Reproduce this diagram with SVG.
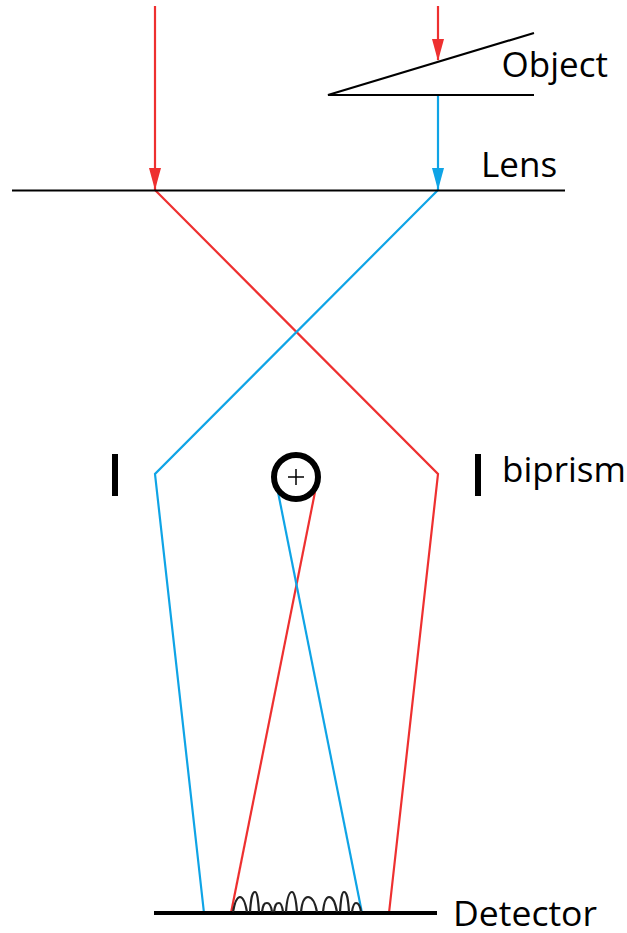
<svg xmlns="http://www.w3.org/2000/svg" width="627" height="933" viewBox="0 0 627 933">
<style>
.k{stroke:#000;fill:none}
.r{stroke:#ee3030;stroke-width:2.200;fill:none}
.b{stroke:#0fa4e6;stroke-width:2.200;fill:none}
.t{font-family:"Open Sans","Noto Sans",sans-serif;font-size:35px;fill:#000}
</style>
<g id="connectors">
<path class="r" d="M155 6V190"/>
<path fill="#ee3030" d="M149 168H161L155 190Z"/>
<path class="r" d="M438 6V60"/>
<path fill="#ee3030" d="M432 39H444L438 61Z"/>
<path class="b" d="M438 95V190"/>
<path fill="#0fa4e6" d="M432 168H444L438 190Z"/>
<path class="r" d="M155 190L438 474L389 913"/>
<path class="b" d="M438 190L155 474L204 913"/>
<path class="r" d="M315 492L231 913"/>
<path class="b" d="M278 492L362 913"/>
</g>
<g id="object">
<path class="k" stroke-width="2.200" d="M534 33L328 95H534"/>
<text class="t" x="501.500" y="77">Object</text>
</g>
<g id="lens">
<path class="k" stroke-width="2" d="M12 190.500H565"/>
<text class="t" x="481" y="177">Lens</text>
</g>
<g id="biprism">
<path class="k" stroke-width="6" d="M115 454V496M478 454V496"/>
<circle class="k" stroke-width="6" cx="296" cy="477" r="22"/>
<path class="k" stroke-width="1.500" d="M296 469V485M288 477H304"/>
<text class="t" x="502" y="482">biprism</text>
</g>
<g id="detector">
<path class="k" stroke-width="4" d="M154 913H437"/>
<path stroke="#222" stroke-width="2.200" fill="none" d="M233 912C235 901 237 897 240 897C243 897 245 901 247 912M250 912C251 898 252 892 255 892C257 892 258 898 259 912M262 912C263 905 264 903 267 903C269 903 271 905 272 912M274 912C275 905 276 903 279 903C281 903 282 905 283 912M286 912C287 898 289 892 292 892C294 892 296 898 297 912M301 912C302 902 304 897 308 897C312 897 315 902 317 912M323 912C324 902 326 897 329 897C333 897 335 902 337 912M340 912C341 898 342 892 344 892C347 892 348 898 349 912M352 912C353 905 354 903 356 903C358 903 360 905 361 912"/>
<text class="t" x="453" y="926" textLength="144" lengthAdjust="spacingAndGlyphs">Detector</text>
</g>
</svg>
